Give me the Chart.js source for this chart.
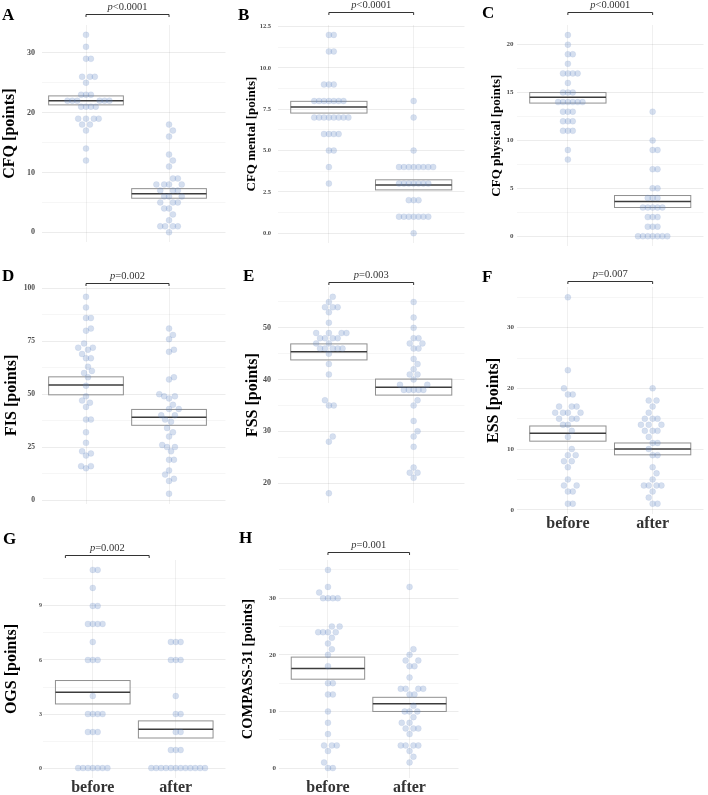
<!DOCTYPE html>
<html>
<head>
<meta charset="utf-8">
<script src="https://cdn.jsdelivr.net/npm/chart.js@4.4.0/dist/chart.umd.min.js"></script>
<style>
  body { margin: 0; background: #fff; width: 708px; height: 795px; position: relative; overflow: hidden; }
  canvas { position: absolute; }
  .tag { position: absolute; font: bold 17px "Liberation Serif", serif; line-height: 17px; color: #000; }
</style>
</head>
<body>
<script>
// ---- data ----
var groups = ["before", "after"];

var cfqBefore = [33, 31, 29, 29, 26, 26, 26, 25, 23, 23, 23, 22, 22, 22, 22, 22, 22, 21, 21, 21, 21, 19, 19, 19, 19, 18, 18, 17, 14, 12];
var cfqAfter = [18, 17, 16, 13, 12, 11, 9, 9, 8, 8, 8, 8, 7, 7, 7, 6, 6, 6, 5, 5, 5, 4, 4, 3, 2, 1, 1, 1, 1, 0];
var cfqBox = [[21.3, 22.0, 22.8], [5.7, 6.45, 7.3]];

var mentalBefore = [12, 12, 11, 11, 9, 9, 9, 8, 8, 8, 8, 8, 8, 8, 7, 7, 7, 7, 7, 7, 7, 7, 6, 6, 6, 6, 5, 5, 4, 3];
var mentalAfter = [8, 7, 5, 4, 4, 4, 4, 4, 4, 4, 4, 3, 3, 3, 3, 3, 3, 3, 2, 2, 2, 1, 1, 1, 1, 1, 1, 1, 0];
var mentalBox = [[7.27, 7.63, 7.98], [2.62, 2.92, 3.23]];

var physBefore = [21, 20, 19, 19, 18, 17, 17, 17, 17, 16, 15, 15, 15, 14, 14, 14, 14, 14, 14, 13, 13, 13, 12, 12, 12, 11, 11, 11, 9, 8];
var physAfter = [13, 10, 9, 9, 7, 7, 5, 5, 4, 4, 4, 3, 3, 3, 3, 3, 2, 2, 2, 1, 1, 1, 0, 0, 0, 0, 0, 0, 0];
var physBox = [[13.9, 14.5, 15.0], [3.0, 3.63, 4.25]];

var fisBefore = [96, 91, 86, 86, 81, 80, 74, 72, 72, 71, 69, 67, 67, 63, 61, 60, 58, 54, 49, 47, 46, 44, 38, 38, 32, 27, 23, 22, 21, 16, 16, 15];
var fisAfter = [81, 78, 76, 71, 70, 58, 57, 50, 49, 49, 48, 45, 43, 43, 40, 40, 38, 37, 34, 32, 30, 26, 25, 25, 23, 19, 19, 14, 12, 10, 9, 3];
var fisBox = [[49.7, 54.3, 58.2], [35.3, 39.1, 42.8]];

var fssBefore = [56, 55, 54, 54, 54, 53, 51, 49, 49, 49, 49, 48, 48, 48, 48, 47, 47, 46, 46, 46, 46, 46, 45, 43, 41, 36, 35, 35, 29, 28, 18];
var fssAfter = [55, 52, 50, 48, 48, 47, 47, 46, 46, 44, 43, 42, 41, 41, 40, 39, 39, 38, 38, 38, 38, 38, 36, 35, 32, 30, 29, 27, 23, 22, 22, 21];
var fssBox = [[43.8, 45.4, 46.9], [37.0, 38.5, 40.1]];

var essBefore = [35, 23, 20, 19, 19, 17, 17, 17, 16, 16, 16, 16, 15, 15, 15, 14, 14, 13, 12, 10, 9, 9, 8, 8, 7, 5, 4, 4, 3, 3, 1, 1];
var essAfter = [20, 18, 18, 17, 16, 15, 15, 15, 14, 14, 14, 13, 13, 13, 12, 11, 11, 10, 9, 9, 7, 6, 5, 4, 4, 4, 4, 3, 2, 1, 1];
var essBox = [[11.3, 12.6, 13.8], [9.05, 10.0, 11.0]];

var ogsBefore = [11, 11, 10, 9, 9, 8, 8, 8, 8, 7, 6, 6, 6, 4, 3, 3, 3, 3, 2, 2, 2, 0, 0, 0, 0, 0, 0, 0];
var ogsAfter = [7, 7, 7, 6, 6, 6, 4, 3, 3, 2, 2, 1, 1, 1, 0, 0, 0, 0, 0, 0, 0, 0, 0, 0, 0, 0];
var ogsBox = [[3.56, 4.21, 4.86], [1.67, 2.15, 2.62]];

var compassBefore = [35, 32, 31, 30, 30, 30, 30, 25, 25, 24, 24, 24, 24, 23, 22, 21, 20, 18, 15, 15, 13, 13, 10, 8, 6, 4, 4, 4, 3, 1, 0, 0];
var compassAfter = [32, 21, 20, 19, 19, 18, 18, 16, 14, 14, 14, 14, 13, 13, 11, 10, 10, 10, 9, 8, 8, 7, 7, 7, 6, 4, 4, 4, 4, 3, 2, 1];
var compassBox = [[15.7, 17.6, 19.6], [10.0, 11.35, 12.5]];

var panelTags = ["A", "B", "C", "D", "E", "F", "G", "H"];
var yTitles = ["CFQ [points]", "CFQ mental [points]", "CFQ physical [points]", "FIS [points]",
               "FSS [points]", "ESS [points]", "OGS [points]", "COMPASS-31 [points]"];
var pTexts = ["<0.0001", "<0.0001", "<0.0001", "=0.002", "=0.003", "=0.007", "=0.002", "=0.001"];
var majorSteps = [10, 2.5, 5, 25, 10, 10, 3, 10];
var tickDecimals = [0, 1, 0, 0, 0, 0, 0, 0];
var bracketSpans = [[0, 1], [0, 1], [0, 1], [0, 1], [0, 1], [0, 1], [-0.33, 0.68], [0, 1]];

var beforeSets = [cfqBefore, mentalBefore, physBefore, fisBefore, fssBefore, essBefore, ogsBefore, compassBefore];
var afterSets = [cfqAfter, mentalAfter, physAfter, fisAfter, fssAfter, essAfter, ogsAfter, compassAfter];
var boxSets = [cfqBox, mentalBox, physBox, fisBox, fssBox, essBox, ogsBox, compassBox];

// ---- where each panel sits on the page ----
var frames = [
  { cx: 0,   cy: 0,   L: 42,  R: 230, T: 25,  B: 252.5, xMin: -0.53, xMax: 1.68, tSize: 16,   tPad: 0,  kSize: 8,   kPad: 7,   gap: 11,   tagX: 2,   tagY: 6 },
  { cx: 236, cy: 0,   L: 278, R: 469, T: 25,  B: 252.5, xMin: -0.6,  xMax: 1.6,  tSize: 13,   tPad: 8,  kSize: 6.5, kPad: 7,   gap: 13.3, tagX: 238, tagY: 6 },
  { cx: 472, cy: 0,   L: 517, R: 708, T: 25,  B: 252.5, xMin: -0.6,  xMax: 1.6,  tSize: 13,   tPad: 17, kSize: 7,   kPad: 3.5, gap: 13,   tagX: 482, tagY: 4 },
  { cx: 0,   cy: 262, L: 42,  R: 230, T: 287, B: 514,   xMin: -0.53, xMax: 1.68, tSize: 16,   tPad: 2,  kSize: 7.5, kPad: 7,   gap: 3.7,  tagX: 2,   tagY: 267 },
  { cx: 236, cy: 262, L: 278, R: 469, T: 287, B: 514,   xMin: -0.6,  xMax: 1.6,  tSize: 16,   tPad: 7,  kSize: 8,   kPad: 7,   gap: 5.3,  tagX: 243, tagY: 267 },
  { cx: 472, cy: 262, L: 517, R: 708, T: 287, B: 514,   xMin: -0.6,  xMax: 1.6,  tSize: 16,   tPad: 12, kSize: 7,   kPad: 3,   gap: 6.3,  tagX: 482, tagY: 268, labels: true },
  { cx: 0,   cy: 524, L: 43,  R: 230, T: 560, B: 778,   xMin: -0.6,  xMax: 1.6,  tSize: 16,   tPad: 2,  kSize: 6,   kPad: 1,   gap: 5,    tagX: 3,   tagY: 530, labels: true },
  { cx: 236, cy: 524, L: 279, R: 463, T: 560, B: 778,   xMin: -0.6,  xMax: 1.6,  tSize: 14.5, tPad: 3.6, kSize: 7,  kPad: 3,   gap: 7.7,  tagX: 239, tagY: 529, labels: true }
];

var SERIF = "'Liberation Serif', 'DejaVu Serif', serif";
var DOT = "rgba(100, 135, 195, 0.27)";

// spread tied / close values sideways (pixel space) so dots stay visible
function swarm(values, pxY, pxX) {
  var order = values.map(function (v, i) { return i; })
    .sort(function (a, b) { return values[a] - values[b]; });
  var placed = [], off = [];
  order.forEach(function (i) {
    var y = values[i] * pxY;
    for (var k = 0; k < 300; k++) {
      var cand = k === 0 ? 0 : (k % 2 ? 1 : -1) * Math.ceil(k / 2);
      var ok = placed.every(function (p) {
        var dx = p.x - cand, dy = (p.y - y) * 0.45;
        return dx * dx + dy * dy >= 18;
      });
      if (ok) break;
    }
    placed.push({ x: cand, y: y });
    off[i] = cand / pxX;
  });
  return off;
}

var meanBoxes = {
  id: "meanBoxes",
  beforeDatasetsDraw: function (chart, args, o) {
    var ctx = chart.ctx, xs = chart.scales.x, ys = chart.scales.y;
    ctx.save();
    o.boxes.forEach(function (b, gi) {
      var x0 = xs.getPixelForValue(gi - 0.45), x1 = xs.getPixelForValue(gi + 0.45);
      var lo = ys.getPixelForValue(b[0]), mid = ys.getPixelForValue(b[1]), hi = ys.getPixelForValue(b[2]);
      ctx.strokeStyle = "#909090";
      ctx.lineWidth = 1;
      ctx.strokeRect(x0, hi, x1 - x0, lo - hi);
      ctx.strokeStyle = "#3c3c3c";
      ctx.lineWidth = 1.5;
      ctx.beginPath();
      ctx.moveTo(x0, mid);
      ctx.lineTo(x1, mid);
      ctx.stroke();
    });
    ctx.restore();
  },
  afterDraw: function (chart, args, o) {
    var ctx = chart.ctx, xs = chart.scales.x;
    var a = xs.getPixelForValue(o.span[0]), b = xs.getPixelForValue(o.span[1]);
    var y = Math.round(chart.chartArea.top - o.gap) + 0.5;
    ctx.save();
    ctx.strokeStyle = "#333";
    ctx.lineWidth = 1;
    ctx.beginPath();
    ctx.moveTo(a, y + 2.5); ctx.lineTo(a, y); ctx.lineTo(b, y); ctx.lineTo(b, y + 2.5);
    ctx.stroke();
    ctx.fillStyle = "#333";
    ctx.textBaseline = "middle";
    ctx.font = "italic 10.5px " + SERIF;
    var wp = ctx.measureText("p").width;
    ctx.font = "10.5px " + SERIF;
    var wr = ctx.measureText(o.label).width;
    var sx = (a + b) / 2 - (wp + wr) / 2;
    ctx.font = "italic 10.5px " + SERIF;
    ctx.fillText("p", sx, y - 7);
    ctx.font = "10.5px " + SERIF;
    ctx.fillText(o.label, sx + wp, y - 7);
    ctx.restore();
  }
};

frames.forEach(function (f, n) {
  var bef = beforeSets[n], aft = afterSets[n];
  var all = bef.concat(aft);
  var lo = Math.min.apply(null, all), hi = Math.max.apply(null, all);
  var yMin = lo - 0.05 * (hi - lo), yMax = hi + 0.05 * (hi - lo);
  var pxY = (f.B - f.T) / (yMax - yMin), pxX = (f.R - f.L) / (f.xMax - f.xMin);
  var major = majorSteps[n], minor = major / 2;
  var xH = f.labels ? 20 : 0;
  var w = f.R - f.cx, h = Math.ceil(f.B - f.cy + xH + 1);

  var tag = document.createElement("div");
  tag.className = "tag";
  tag.style.left = f.tagX + "px";
  tag.style.top = f.tagY + "px";
  tag.textContent = panelTags[n];

  var cv = document.createElement("canvas");
  cv.width = w; cv.height = h;
  cv.style.left = f.cx + "px"; cv.style.top = f.cy + "px";
  cv.style.width = w + "px"; cv.style.height = h + "px";
  document.body.appendChild(cv);
  document.body.appendChild(tag);

  function isMajor(v) { return Math.abs(v / major - Math.round(v / major)) < 1e-6; }

  var sets = [bef, aft].map(function (vals, gi) {
    var off = swarm(vals, pxY, pxX);
    return {
      label: groups[gi],
      data: vals.map(function (v, i) { return { x: gi + off[i], y: v }; }),
      backgroundColor: DOT,
      borderColor: "rgba(100, 135, 195, 0.2)",
      borderWidth: 0.5,
      pointRadius: 3
    };
  });

  new Chart(cv.getContext("2d"), {
    type: "scatter",
    data: { datasets: sets },
    plugins: [meanBoxes],
    options: {
      responsive: false,
      animation: false,
      events: [],
      layout: { padding: { left: 0, right: 0, top: f.T - f.cy, bottom: h - (f.B - f.cy) - xH } },
      plugins: {
        legend: { display: false },
        tooltip: { enabled: false },
        meanBoxes: { boxes: boxSets[n], span: bracketSpans[n], label: pTexts[n], gap: f.gap }
      },
      scales: {
        x: {
          type: "linear",
          min: f.xMin,
          max: f.xMax,
          border: { display: false },
          grid: { color: "rgba(0,0,0,0.06)", drawTicks: false },
          afterBuildTicks: function (s) { s.ticks = [{ value: 0 }, { value: 1 }]; },
          afterFit: function (s) { s.height = xH; },
          ticks: {
            display: !!f.labels,
            autoSkip: false,
            maxRotation: 0,
            padding: 0,
            color: "#333",
            font: { family: SERIF, size: 16, weight: "bold" },
            callback: function (v, i) { return groups[i]; }
          }
        },
        y: {
          min: yMin,
          max: yMax,
          border: { display: false },
          grid: {
            drawTicks: false,
            color: function (c) { return c.tick && isMajor(c.tick.value) ? "rgba(0,0,0,0.075)" : "rgba(0,0,0,0.035)"; }
          },
          afterBuildTicks: function (s) {
            var t = [];
            for (var v = Math.ceil(s.min / minor - 1e-9) * minor; v <= s.max + 1e-9; v += minor) {
              t.push({ value: +v.toFixed(4) });
            }
            s.ticks = t;
          },
          afterFit: function (s) { s.width = f.L - f.cx; },
          ticks: {
            padding: f.kPad,
            color: "#4d4d4d",
            font: { family: SERIF, size: f.kSize, weight: "bold" },
            callback: function (v) { return isMajor(v) ? v.toFixed(tickDecimals[n]) : ""; }
          },
          title: {
            display: true,
            text: yTitles[n],
            color: "#000",
            padding: { top: f.tPad, bottom: 0 },
            font: { family: SERIF, size: f.tSize, weight: "bold" }
          }
        }
      }
    }
  });
});
</script>
</body>
</html>
